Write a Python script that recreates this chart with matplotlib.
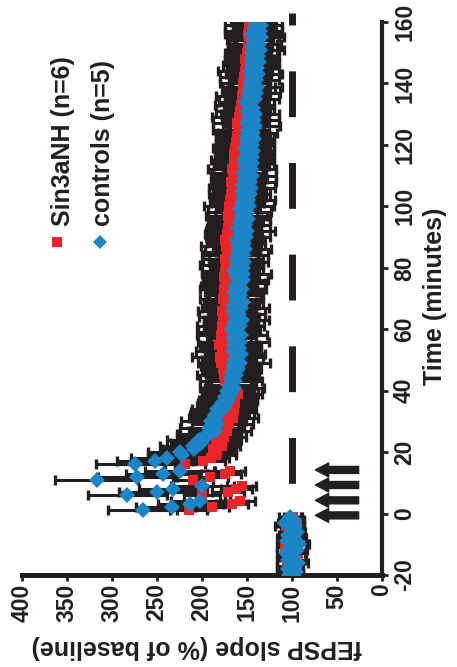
import matplotlib
matplotlib.use("Agg")
import matplotlib.pyplot as plt

plt.rcParams['font.family'] = ['Liberation Sans', 'DejaVu Sans']
plt.rcParams['font.weight'] = 'bold'
plt.rcParams['axes.unicode_minus'] = False

# time points (minutes)
t_base = list(range(-20, 0))
t_post = [1, 2, 3, 4, 6, 7, 8, 9, 11, 12, 13, 14] + list(range(16, 161))
t_train = [-0.6, 4.3, 9.3, 14.2]

# Sin3aNH (n=6)
sin_base = [96, 104, 95, 106, 100, 93, 105, 98, 102, 108, 94, 101, 106, 96, 103, 99, 107, 95, 102, 99]
sin_base_err = [8, 10, 7, 11, 9, 8, 10, 12, 7, 9, 10, 8, 11, 9, 7, 10, 12, 8, 9, 10]
sin_post = [215, 189, 167, 158, 200, 171, 162, 156, 210, 191, 175, 169,
            219, 199, 190, 185, 183, 188, 178, 184, 179, 176,
            180, 172, 175, 170, 174, 166, 173, 168, 164, 171,
            163, 168, 166, 160, 167, 172, 165, 174, 168, 176,
            169, 177, 171, 179, 173, 180, 172, 178, 173, 181,
            175, 170, 179, 174, 169, 178, 173, 168, 177, 171,
            178, 170, 175, 168, 177, 172, 167, 176, 170, 174,
            168, 176, 170, 174, 167, 173, 166, 175, 169, 172,
            165, 173, 168, 174, 167, 172, 165, 171, 164, 170,
            163, 171, 166, 162, 170, 164, 169, 162, 168, 161,
            167, 160, 168, 162, 166, 159, 167, 164, 159, 165,
            158, 164, 157, 163, 158, 162, 155, 161, 156, 160,
            154, 161, 153, 159, 155, 158, 151, 157, 155, 150,
            156, 149, 155, 148, 154, 147, 153, 148, 152, 146,
            151, 145, 152, 144, 150, 143, 149, 144, 148, 142,
            149, 146, 143, 148, 144]
sin_post_err = [21, 19, 18, 17, 20, 18, 17, 16, 22, 20, 18, 17,
                22, 24, 20, 23, 21, 25, 20, 24, 22, 25,
                23, 26, 22, 27, 23, 28, 22, 26, 24, 28,
                23, 29, 25, 27, 24, 30, 25, 28, 24, 30,
                28, 23, 30, 25, 27, 31, 22, 29, 26, 21,
                29, 24, 27, 31, 23, 28, 25, 30, 26, 22,
                26, 30, 23, 28, 25, 22, 29, 26, 31, 24,
                27, 23, 30, 26, 22, 29, 26, 24, 31, 25,
                23, 28, 26, 21, 29, 25, 31, 24, 27, 22,
                30, 25, 27, 23, 28, 26, 22, 29, 24, 27,
                25, 29, 22, 27, 24, 30, 26, 23, 28, 25,
                27, 22, 29, 25, 27, 23, 30, 24, 26, 28,
                23, 27, 25, 30, 24, 27, 22, 29, 26, 24,
                28, 25, 23, 29, 26, 22, 27, 25, 30, 24,
                26, 29, 23, 27, 25, 28, 22, 27, 24, 27,
                25, 28, 23, 27, 24]

# controls (n=5)
ctl_base = [103, 96, 105, 98, 93, 104, 99, 107, 95, 101, 92, 106, 98, 104, 95, 100, 97, 108, 98, 102]
ctl_base_err = [10, 8, 12, 9, 11, 13, 8, 10, 12, 9, 11, 8, 13, 10, 9, 12, 10, 8, 11, 12]
ctl_post = [266, 233, 213, 202, 283, 250, 232, 200, 317, 272, 243, 225,
            274, 252, 239, 222, 224, 209, 210, 201, 203, 196,
            195, 186, 192, 183, 190, 185, 186, 180, 183, 175,
            178, 171, 175, 168, 172, 164, 170, 163, 168, 162,
            167, 160, 166, 158, 165, 161, 157, 166, 159, 165,
            158, 166, 157, 164, 167, 158, 165, 156, 163, 159,
            166, 157, 164, 155, 163, 158, 165, 156, 163, 160,
            155, 162, 154, 164, 155, 161, 153, 162, 154, 160,
            152, 160, 153, 161, 151, 158, 150, 160, 152, 158,
            149, 157, 150, 158, 148, 156, 149, 155, 147, 156,
            146, 154, 147, 153, 145, 154, 146, 152, 144, 153,
            145, 151, 143, 152, 144, 150, 142, 151, 143, 149,
            141, 150, 142, 148, 141, 150, 143, 148, 151, 141,
            149, 140, 148, 139, 147, 140, 146, 138, 147, 139,
            145, 137, 146, 138, 144, 136, 145, 137, 143, 135,
            144, 136, 142, 135, 140]
ctl_post_err = [38, 40, 36, 33, 44, 42, 38, 35, 46, 44, 42, 38,
                44, 42, 40, 38, 36, 35, 37, 33, 36, 32,
                33, 29, 32, 28, 33, 29, 27, 32, 28, 31,
                27, 32, 25, 30, 28, 33, 26, 30, 28, 25,
                30, 26, 29, 33, 25, 29, 27, 31, 24, 28,
                32, 26, 29, 25, 31, 27, 24, 30, 26, 29,
                25, 31, 27, 23, 29, 26, 32, 27, 24, 30,
                28, 25, 31, 27, 23, 29, 26, 30, 27, 24,
                29, 26, 23, 30, 27, 25, 31, 24, 28, 26,
                24, 29, 27, 22, 28, 25, 30, 26, 23, 27,
                27, 23, 29, 25, 27, 22, 28, 26, 24, 30,
                25, 28, 23, 27, 24, 29, 22, 27, 26, 23,
                28, 24, 27, 22, 27, 25, 23, 28, 24, 26,
                22, 27, 24, 28, 23, 26, 21, 27, 24, 25,
                27, 22, 26, 24, 21, 27, 23, 25, 22, 26,
                23, 25, 21, 24, 22]

black = '#231f20'
red = '#ec2528'
blue = '#1b85c8'

fig = plt.figure(figsize=(4.57, 6.67), dpi=100)
ax = fig.add_axes([22/457, 92/667, 360/457, 553/667])
ax.set_xlim(400, 0)
ax.set_ylim(-20, 160)

# baseline reference (dashed)
ax.plot([100, 100], [-20, 163], color=black, lw=5, ls=(0, (6.6, 6.6)),
        zorder=1, clip_on=False)

# error bars
t_all = t_base + t_post
for vals, errs in [(sin_base + sin_post, sin_base_err + sin_post_err),
                   (ctl_base + ctl_post, ctl_base_err + ctl_post_err)]:
    ax.errorbar(vals, t_all, xerr=errs, fmt='none', ecolor=black,
                elinewidth=2.2, capsize=3.4, capthick=2.4, zorder=2)

ax.plot(sin_base + sin_post, t_all, 's', color=red, ms=7.3, mew=0, zorder=3)
ax.plot(ctl_base + ctl_post, t_all, 'D', color=blue, ms=7.8, mew=0, zorder=4)

# tetanus trains
for tt in t_train:
    ax.annotate('', xy=(74, tt), xytext=(26, tt),
                arrowprops=dict(arrowstyle='simple,head_length=0.95,head_width=1.0,tail_width=0.5',
                                color=black, shrinkA=0, shrinkB=0), zorder=5)

for s in ['left', 'top']:
    ax.spines[s].set_visible(False)
ax.spines['bottom'].set_linewidth(3.6)
ax.spines['right'].set_linewidth(3.0)
ax.spines['bottom'].set_color(black)
ax.spines['right'].set_color(black)

ax.yaxis.tick_right()
ax.set_xticks([0, 50, 100, 150, 200, 250, 300, 350, 400])
ax.set_yticks([-20, 0, 20, 40, 60, 80, 100, 120, 140, 160])
ax.tick_params(axis='both', direction='out', length=4, width=2, color=black,
               labelsize=16.5, labelcolor=black)
ax.tick_params(axis='x', pad=2)
ax.tick_params(axis='y', pad=4)
for lab in ax.get_xticklabels():
    lab.set_rotation(90)
    lab.set_va('top')
    lab.set_ha('center')
    lab.set_fontweight('bold')
for lab in ax.get_yticklabels():
    lab.set_rotation(90)
    lab.set_va('center')
    lab.set_ha('left')
    lab.set_fontweight('bold')

fig.text(197/457, 1 - 647/667, 'fEPSP slope (% of baseline)', rotation=180,
         ha='center', va='center', fontsize=18, fontweight='bold', color=black)
fig.text(435/457, 1 - 296/667, 'Time (minutes)', rotation=90,
         ha='center', va='center', fontsize=18, fontweight='bold', color=black)

# legend
fig.lines.append(plt.Line2D([57/457], [1 - 242/667], marker='s', color=red, ms=7, mew=0,
                            transform=fig.transFigure))
fig.lines.append(plt.Line2D([100/457], [1 - 242/667], marker='D', color=blue, ms=7, mew=0,
                            transform=fig.transFigure))
fig.text(63/457, 1 - 226/667, 'Sin3aNH (n=6)', rotation=90, ha='center', va='bottom',
         fontsize=18, fontweight='bold', color=black)
fig.text(103/457, 1 - 226/667, 'controls (n=5)', rotation=90, ha='center', va='bottom',
         fontsize=18, fontweight='bold', color=black)

fig.savefig('out.png', dpi=100)
